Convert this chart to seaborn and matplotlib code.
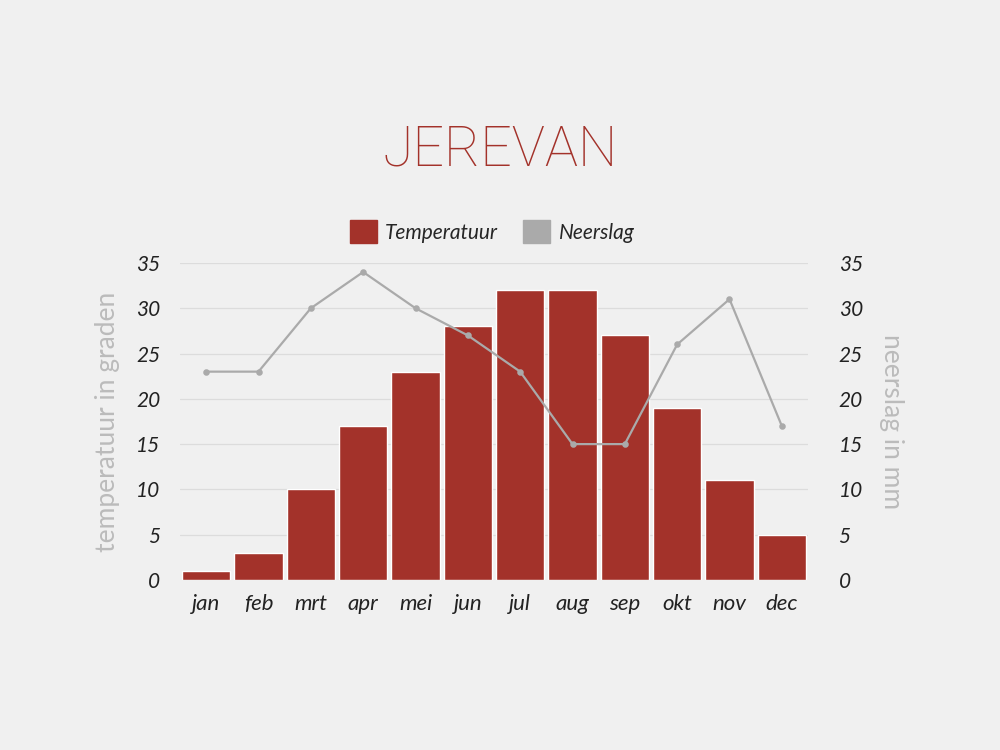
import numpy as np
import pandas as pd
import seaborn as sns
import matplotlib.pyplot as plt

months = ['jan', 'feb', 'mrt', 'apr', 'mei', 'jun', 'jul', 'aug', 'sep', 'okt', 'nov', 'dec']
temperatuur = [1, 3, 10, 17, 23, 28, 32, 32, 27, 19, 11, 5]
neerslag = [23, 23, 30, 34, 30, 27, 23, 15, 15, 26, 31, 17]

BG = '#f0f0f0'
RED = '#a3322a'
GREY = '#aaaaaa'

sns.set_theme(style='white')
plt.rcParams['font.family'] = ['Lato', 'DejaVu Sans']

df = pd.DataFrame({'maand': months, 'temp': temperatuur, 'regen': neerslag})

fig = plt.figure(figsize=(10, 7.5), dpi=100, facecolor=BG)
ax = fig.add_axes([0.18, 0.2267, 0.628, 0.4227])
ax.set_facecolor(BG)

sns.barplot(data=df, x='maand', y='temp', color=RED, saturation=1, width=0.92, ax=ax, zorder=2)
ax.set_ylim(0, 35)
ax.set_yticks(range(0, 36, 5))
ax.yaxis.grid(True, color='#dcdcdc', linewidth=0.9, zorder=0)
ax.set_axisbelow(True)
for s in ax.spines.values():
    s.set_visible(False)
ax.tick_params(axis='both', length=0)
ax.tick_params(axis='y', pad=14)
ax.tick_params(axis='x', pad=10)
for lbl in ax.get_yticklabels():
    lbl.set_fontsize(15)
    lbl.set_fontstyle('italic')
    lbl.set_color('#222222')
for lbl in ax.get_xticklabels():
    lbl.set_fontsize(16)
    lbl.set_fontstyle('italic')
    lbl.set_color('#222222')
ax.set_xlabel('')
ax.set_ylabel('temperatuur in graden', fontsize=19, color='#bbbbbb', labelpad=12)

ax2 = ax.twinx()
sns.pointplot(data=df, x='maand', y='regen', color=GREY, markers='o',
              markersize=3.5, linewidth=1.6, ax=ax2)
ax2.set_ylim(0, 35)
ax2.set_yticks(range(0, 36, 5))
for s in ax2.spines.values():
    s.set_visible(False)
ax2.tick_params(axis='y', length=0, pad=22)
for lbl in ax2.get_yticklabels():
    lbl.set_fontsize(15)
    lbl.set_fontstyle('italic')
    lbl.set_color('#222222')
ax2.set_ylabel('neerslag in mm', fontsize=19, color='#bbbbbb', rotation=270, labelpad=30)
ax2.grid(False)

fig.text(0.5, 0.80, 'JEREVAN', ha='center', va='center', color=RED,
         family=['Roboto', 'DejaVu Sans'], fontsize=40, fontweight='light', fontstretch='condensed')

handles = [plt.Rectangle((0, 0), 1, 1, color=RED), plt.Rectangle((0, 0), 1, 1, color=GREY)]
leg = fig.legend(handles, ['Temperatuur', 'Neerslag'], loc='center', bbox_to_anchor=(0.492, 0.691),
                 ncol=2, frameon=False, handlelength=1.3, handleheight=1.3, handletextpad=0.4,
                 columnspacing=1.2, prop={'size': 15, 'style': 'italic'})

fig.savefig('out.png', dpi=100, facecolor=BG)
